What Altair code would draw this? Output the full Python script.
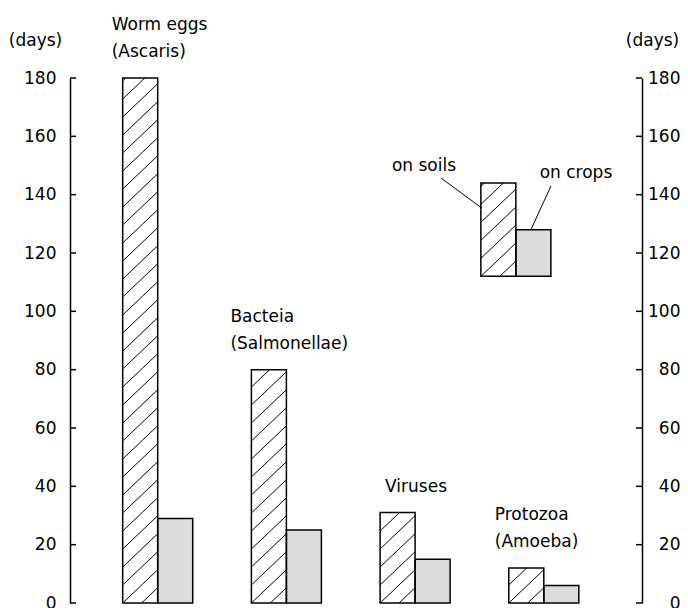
import altair as alt
import numpy as np
import pandas as pd

# ---------------- data ----------------
categories = ["Worm eggs", "Bacteia", "Viruses", "Protozoa"]
label_line1 = ["Worm eggs", "Bacteia", "", "Protozoa"]
label_line2 = ["(Ascaris)", "(Salmonellae)", "Viruses", "(Amoeba)"]
series = ["on soils", "on crops"]
on_soils = [180, 80, 31, 12]
on_crops = [29, 25, 15, 6]
y_ticks = [0, 20, 40, 60, 80, 100, 120, 140, 160, 180]
legend_days = [144, 128]      # heights of the key boxes (on soils, on crops)
legend_base = 112

# ---------------- layout ----------------
W, H = 572, 525
X_MIN, X_MAX = -0.6814, 3.763
Y_MAX = 180
HALF = 0.272
PX_X = W / (X_MAX - X_MIN)
PX_Y = H / Y_MAX
LABEL_DX = [-46, -56, -30, -49]
LEG_X = 2.783
SOILS_TXT = (2.069, 150.0)
CROPS_TXT = (3.25, 147.3)
SOILS_LEAD = (2.201, 145.7, 2.519, 135.4)
CROPS_LEAD = (3.056, 143.0, 2.900, 128.0)
FONT = "DejaVu Sans"
FS = 17
GRAY = "#dcdcdc"

xscale = alt.Scale(domain=[X_MIN, X_MAX], nice=False, zero=False)
yscale = alt.Scale(domain=[0, Y_MAX], nice=False, zero=True)


def hatch(x0, x1, y0, y1, spacing=18.0, slope=0.95):
    wpx = (x1 - x0) * PX_X
    hpx = (y1 - y0) * PX_Y
    segs = []
    kmin = int(np.floor(-slope * wpx / spacing)) - 1
    kmax = int(np.ceil(hpx / spacing)) + 1
    for k in range(kmin, kmax + 1):
        c = k * spacing
        u0 = max(0.0, -c / slope)
        u1 = min(wpx, (hpx - c) / slope)
        if u1 - u0 > 0.8:
            segs.append(dict(x=x0 + u0 / PX_X, y=y0 + (slope * u0 + c) / PX_Y,
                             x2=x0 + u1 / PX_X, y2=y0 + (slope * u1 + c) / PX_Y))
    return segs


rows = []
for i, (s, c) in enumerate(zip(on_soils, on_crops)):
    rows.append(dict(cat=categories[i], series=series[0], x=i - HALF, x2=i, y=0, y2=s))
    rows.append(dict(cat=categories[i], series=series[1], x=i, x2=i + HALF, y=0, y2=c))
# key boxes
rows.append(dict(cat="key", series=series[0], x=LEG_X - HALF, x2=LEG_X, y=legend_base, y2=legend_days[0]))
rows.append(dict(cat="key", series=series[1], x=LEG_X, x2=LEG_X + HALF, y=legend_base, y2=legend_days[1]))
bars = pd.DataFrame(rows)

hatch_rows = []
for r in bars[bars.series == series[0]].itertuples():
    hatch_rows += hatch(r.x, r.x2, r.y, r.y2)
hatch_df = pd.DataFrame(hatch_rows)

labels = pd.DataFrame(dict(
    x=[i + LABEL_DX[i] / PX_X for i in range(len(categories))],
    y=on_soils, l1=label_line1, l2=label_line2))
labels1 = labels[labels.l1 != ""]
labels2 = labels[labels.l2 != ""]

key_text = pd.DataFrame(dict(x=[SOILS_TXT[0], CROPS_TXT[0]], y=[SOILS_TXT[1], CROPS_TXT[1]], t=series))
leaders = pd.DataFrame([dict(x=SOILS_LEAD[0], y=SOILS_LEAD[1], x2=SOILS_LEAD[2], y2=SOILS_LEAD[3]),
                        dict(x=CROPS_LEAD[0], y=CROPS_LEAD[1], x2=CROPS_LEAD[2], y2=CROPS_LEAD[3])])
ticks = pd.DataFrame(dict(v=y_ticks))

X_NONE = lambda f: alt.X(f, type="quantitative", scale=xscale, axis=None)
Y_NONE = lambda f: alt.Y(f, type="quantitative", scale=yscale, axis=None)

base = alt.Chart(bars)

fill_layer = base.mark_bar(stroke=None).encode(
    x=alt.X("x:Q", scale=xscale, axis=alt.Axis(labels=False, ticks=False, title=None, grid=False,
                                               domain=True, domainColor="black", domainWidth=1.5)),
    x2="x2:Q",
    y=alt.Y("y:Q", scale=yscale, axis=alt.Axis(orient="left", values=y_ticks, ticks=False, tickSize=0,
                                               labelPadding=14, grid=False, domainColor="black",
                                               domainWidth=1.5, title="(days)", titleAngle=0,
                                               titleAlign="center", titleBaseline="middle",
                                               titleX=-35, titleY=-38)),
    y2="y2:Q",
    color=alt.Color("series:N", scale=alt.Scale(domain=series, range=["white", GRAY]), legend=None),
)

hatch_layer = alt.Chart(hatch_df).mark_rule(color="black", strokeWidth=1).encode(
    x=X_NONE("x"), x2="x2:Q", y=Y_NONE("y"), y2="y2:Q")

outline = base.mark_bar(fill=None, stroke="black", strokeWidth=1.5, fillOpacity=0).encode(
    x=X_NONE("x"), x2="x2:Q", y=Y_NONE("y"), y2="y2:Q")

txt1 = alt.Chart(labels1).mark_text(align="left", baseline="middle", dy=-53, font=FONT, fontSize=FS,
                                    color="black").encode(x=X_NONE("x"), y=Y_NONE("y"), text="l1:N")
txt2 = alt.Chart(labels2).mark_text(align="left", baseline="middle", dy=-26, font=FONT, fontSize=FS,
                                    color="black").encode(x=X_NONE("x"), y=Y_NONE("y"), text="l2:N")

key_txt = alt.Chart(key_text).mark_text(align="center", baseline="middle", font=FONT, fontSize=FS,
                                        color="black").encode(x=X_NONE("x"), y=Y_NONE("y"), text="t:N")
lead = alt.Chart(leaders).mark_rule(color="black", strokeWidth=1).encode(
    x=X_NONE("x"), x2="x2:Q", y=Y_NONE("y"), y2="y2:Q")

left_ticks = alt.Chart(ticks).mark_rule(color="black", strokeWidth=1.5).encode(
    y=Y_NONE("v"), x=alt.value(0), x2=alt.value(6))
right_ticks = alt.Chart(ticks).mark_rule(color="black", strokeWidth=1.5).encode(
    y=alt.Y("v:Q", scale=yscale, axis=alt.Axis(orient="right", values=y_ticks, ticks=False, tickSize=0,
                                               labelPadding=38, labelAlign="right", grid=False,
                                               domainColor="black", domainWidth=1.5, title="(days)",
                                               titleAngle=0, titleAlign="center", titleBaseline="middle",
                                               titleX=10, titleY=-38)),
    x=alt.value(W - 6), x2=alt.value(W))

chart = alt.layer(
    fill_layer, hatch_layer, outline, txt1, txt2, key_txt, lead, left_ticks, right_ticks
).resolve_axis(y="independent").properties(
    width=W, height=H,
    autosize=alt.AutoSizeParams(type="none"),
    padding={"left": 62, "top": 70, "right": 38, "bottom": 5},
).configure_view(stroke=None).configure_axis(
    labelFont=FONT, labelFontSize=FS, labelColor="black",
    titleFont=FONT, titleFontSize=FS, titleFontWeight="normal", titleColor="black",
)

chart.save("out.html", embed_options={"renderer": "svg", "actions": False})
